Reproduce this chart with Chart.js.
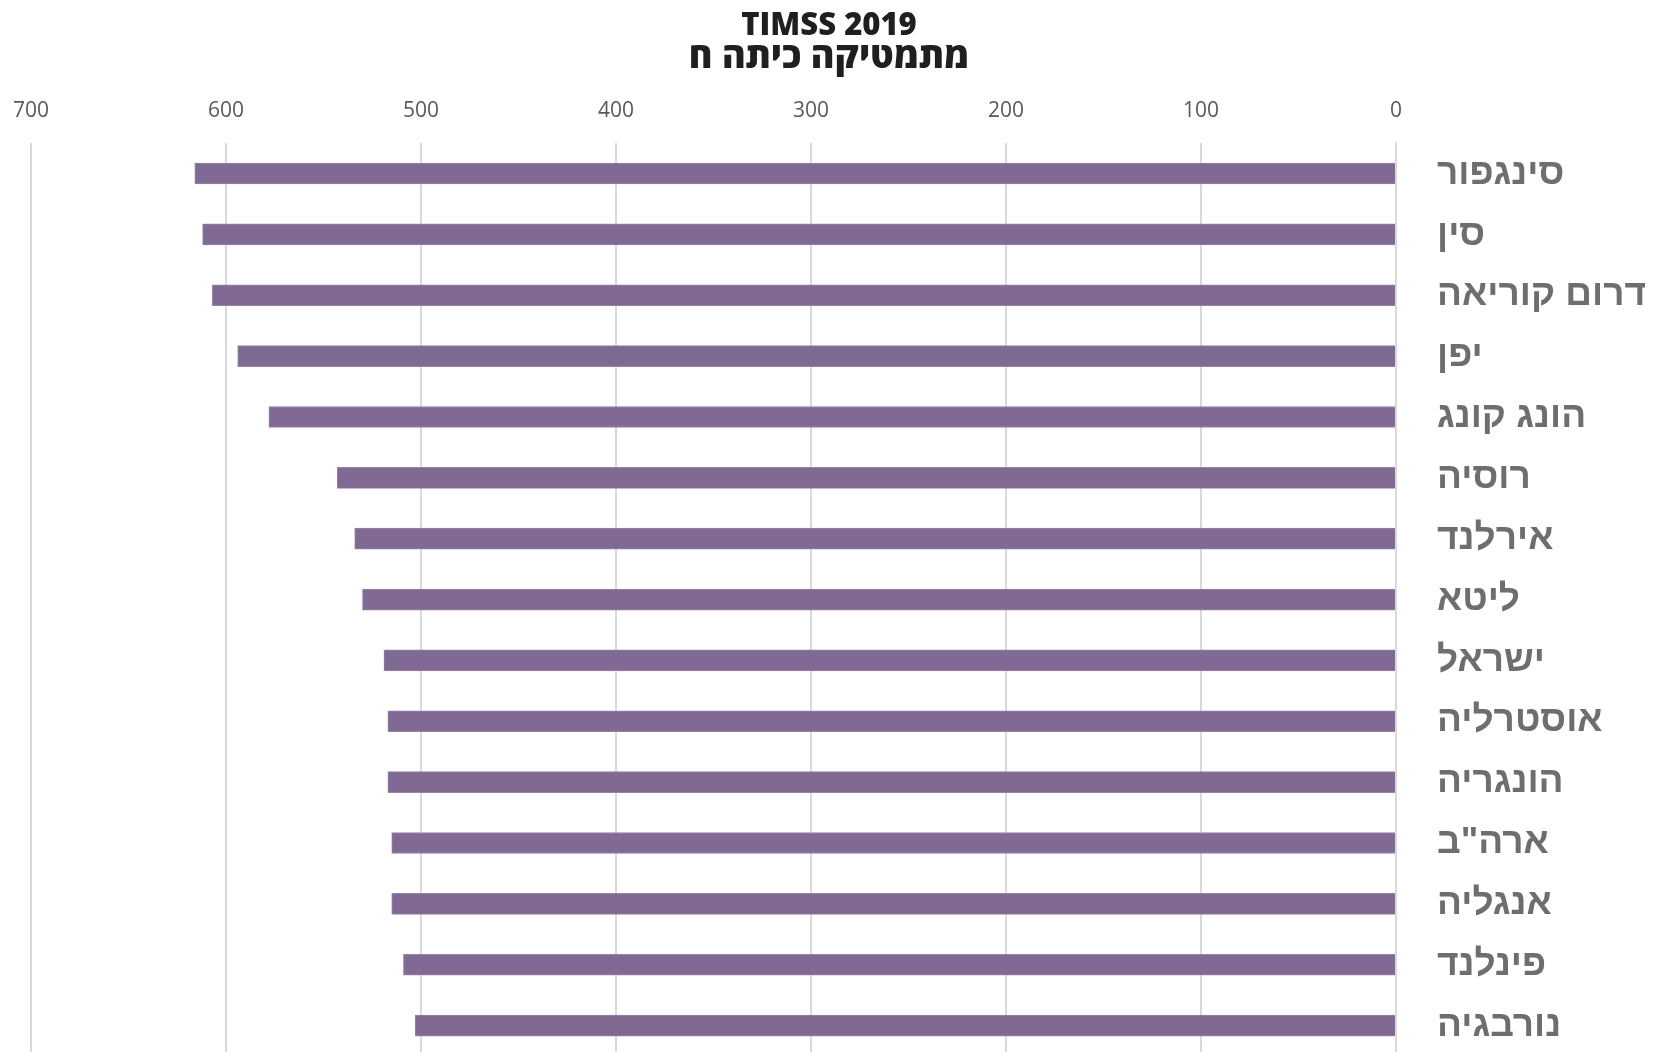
<!DOCTYPE html>
<html>
<head>
<meta charset="utf-8">
<script src="https://cdn.jsdelivr.net/npm/chart.js@4"></script>
<style>
  html, body { margin: 0; padding: 0; background: #fff; overflow: hidden; }
  canvas { display: block; }
</style>
</head>
<body>
<canvas id="chart" width="1658" height="1056"></canvas>
<script>
// Data
const countries = ["סינגפור", "סין", "דרום קוריאה", "יפן", "הונג קונג", "רוסיה", "אירלנד", "ליטא",
  "ישראל", "אוסטרליה", "הונגריה", "ארה\"ב", "אנגליה", "פינלנד", "נורבגיה"];
const scores = [616, 612, 607, 594, 578, 543, 534, 530, 519, 517, 517, 515, 515, 509, 503];
const titleText = "TIMSS 2019";
const subtitleText = "מתמטיקה כיתה ח";

const chart = new Chart(document.getElementById("chart"), {
  type: "bar",
  data: {
    labels: countries,
    datasets: [
      {
        data: scores,
        backgroundColor: "#806a93",
        borderColor: "#9683a8",
        borderWidth: 1,
        barThickness: 21,
      },
    ],
  },
  options: {
    indexAxis: "y",
    responsive: false,
    animation: false,
    layout: { padding: { left: 0, top: 12, right: 0, bottom: 0 } },
    plugins: {
      legend: { display: false },
      tooltip: { enabled: false },
      title: {
        display: true,
        text: titleText,
        color: "#1f1f1f",
        font: { family: "'Open Sans', 'DejaVu Sans', sans-serif", size: 31, weight: "800", lineHeight: 0.9 },
        padding: { top: 0, bottom: 0 },
      },
      subtitle: {
        display: true,
        text: subtitleText,
        color: "#1f1f1f",
        font: { family: "'Open Sans', 'DejaVu Sans', sans-serif", size: 36, weight: "800", lineHeight: 1.0 },
        padding: { top: 0, bottom: 4 },
      },
    },
    scales: {
      x: {
        position: "top",
        reverse: true,
        min: 0,
        max: 700,
        ticks: {
          stepSize: 100,
          color: "#595959",
          padding: 19,
          font: { family: "'Open Sans', 'DejaVu Sans', sans-serif", size: 21 },
        },
        grid: { color: "#d9d9d9", lineWidth: 2, drawTicks: false },
        border: { display: false },
        afterFit: (scale) => {
          // keep the 700 gridline where the reference has it
          scale.paddingLeft = 31;
          scale.paddingRight = 0;
        },
      },
      y: {
        position: "right",
        ticks: {
          color: "#6e6e6e",
          padding: 33,
          font: { family: "'Liberation Sans', Arial, sans-serif", size: 37, weight: "bold" },
        },
        grid: { display: false },
        border: { color: "#d9d9d9", width: 2 },
        afterFit: (scale) => {
          scale.width = 262;
          scale.paddingTop = 0;
          scale.paddingBottom = 0;
        },
      },
    },
  },
});
</script>
</body>
</html>
